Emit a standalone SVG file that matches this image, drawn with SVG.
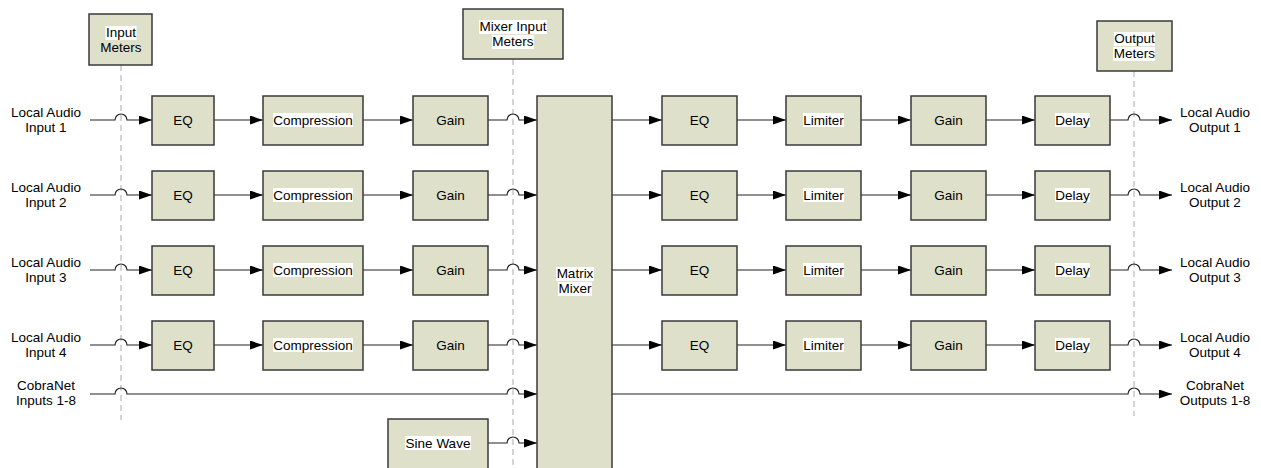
<svg xmlns="http://www.w3.org/2000/svg" width="1261" height="468" viewBox="0 0 1261 468">
<style>
.box{fill:#dee0ca;stroke:#3a3a3a;stroke-width:1.5}
.t{font-family:"Liberation Sans",Arial,sans-serif;font-size:13.5px;fill:#000;text-anchor:middle}
.hl{fill:#fff}
.wire{fill:none;stroke:#222;stroke-width:1.2}
.dash{fill:none;stroke:#aaa;stroke-width:1;stroke-dasharray:6,4}
</style>
<defs>
<marker id="arr" markerUnits="userSpaceOnUse" markerWidth="13" markerHeight="9" refX="13" refY="4.5" orient="auto">
<path d="M0,0 L13,4.5 L0,9 z" fill="#000"/>
</marker>
</defs>
<rect width="1261" height="468" fill="#fff"/>

<g id="meter-lines">
<path class="dash" d="M121,65 V420"/>
<path class="dash" d="M513,59 V468"/>
<path class="dash" d="M1134,71 V416"/>
</g>

<g id="connectors">
<!-- row 1 -->
<path class="wire" marker-end="url(#arr)" d="M90,120 H115 A6,6 0 0 1 127,120 H152"/>
<path class="wire" marker-end="url(#arr)" d="M214,120 H263"/>
<path class="wire" marker-end="url(#arr)" d="M363,120 H413"/>
<path class="wire" marker-end="url(#arr)" d="M488,120 H507 A6,6 0 0 1 519,120 H537"/>
<path class="wire" marker-end="url(#arr)" d="M612,120 H662"/>
<path class="wire" marker-end="url(#arr)" d="M737,120 H786"/>
<path class="wire" marker-end="url(#arr)" d="M861,120 H911"/>
<path class="wire" marker-end="url(#arr)" d="M986,120 H1035"/>
<path class="wire" marker-end="url(#arr)" d="M1110,120 H1128 A6,6 0 0 1 1140,120 H1172"/>
<!-- row 2 -->
<path class="wire" marker-end="url(#arr)" d="M90,195 H115 A6,6 0 0 1 127,195 H152"/>
<path class="wire" marker-end="url(#arr)" d="M214,195 H263"/>
<path class="wire" marker-end="url(#arr)" d="M363,195 H413"/>
<path class="wire" marker-end="url(#arr)" d="M488,195 H507 A6,6 0 0 1 519,195 H537"/>
<path class="wire" marker-end="url(#arr)" d="M612,195 H662"/>
<path class="wire" marker-end="url(#arr)" d="M737,195 H786"/>
<path class="wire" marker-end="url(#arr)" d="M861,195 H911"/>
<path class="wire" marker-end="url(#arr)" d="M986,195 H1035"/>
<path class="wire" marker-end="url(#arr)" d="M1110,195 H1128 A6,6 0 0 1 1140,195 H1172"/>
<!-- row 3 -->
<path class="wire" marker-end="url(#arr)" d="M90,270 H115 A6,6 0 0 1 127,270 H152"/>
<path class="wire" marker-end="url(#arr)" d="M214,270 H263"/>
<path class="wire" marker-end="url(#arr)" d="M363,270 H413"/>
<path class="wire" marker-end="url(#arr)" d="M488,270 H507 A6,6 0 0 1 519,270 H537"/>
<path class="wire" marker-end="url(#arr)" d="M612,270 H662"/>
<path class="wire" marker-end="url(#arr)" d="M737,270 H786"/>
<path class="wire" marker-end="url(#arr)" d="M861,270 H911"/>
<path class="wire" marker-end="url(#arr)" d="M986,270 H1035"/>
<path class="wire" marker-end="url(#arr)" d="M1110,270 H1128 A6,6 0 0 1 1140,270 H1172"/>
<!-- row 4 -->
<path class="wire" marker-end="url(#arr)" d="M90,345 H115 A6,6 0 0 1 127,345 H152"/>
<path class="wire" marker-end="url(#arr)" d="M214,345 H263"/>
<path class="wire" marker-end="url(#arr)" d="M363,345 H413"/>
<path class="wire" marker-end="url(#arr)" d="M488,345 H507 A6,6 0 0 1 519,345 H537"/>
<path class="wire" marker-end="url(#arr)" d="M612,345 H662"/>
<path class="wire" marker-end="url(#arr)" d="M737,345 H786"/>
<path class="wire" marker-end="url(#arr)" d="M861,345 H911"/>
<path class="wire" marker-end="url(#arr)" d="M986,345 H1035"/>
<path class="wire" marker-end="url(#arr)" d="M1110,345 H1128 A6,6 0 0 1 1140,345 H1172"/>
<!-- CobraNet -->
<path class="wire" marker-end="url(#arr)" d="M90,394 H115 A6,6 0 0 1 127,394 H507 A6,6 0 0 1 519,394 H537"/>
<path class="wire" marker-end="url(#arr)" d="M612,394 H1128 A6,6 0 0 1 1140,394 H1172"/>
<!-- Sine wave -->
<path class="wire" marker-end="url(#arr)" d="M488,443 H507 A6,6 0 0 1 519,443 H537"/>
</g>

<g id="input-labels">
<text class="t" x="46" y="117">Local Audio</text><text class="t" x="46" y="132">Input 1</text>
<text class="t" x="46" y="192">Local Audio</text><text class="t" x="46" y="207">Input 2</text>
<text class="t" x="46" y="267">Local Audio</text><text class="t" x="46" y="282">Input 3</text>
<text class="t" x="46" y="342">Local Audio</text><text class="t" x="46" y="357">Input 4</text>
<text class="t" x="46" y="390">CobraNet</text><text class="t" x="46" y="405">Inputs 1-8</text>
</g>
<g id="output-labels">
<text class="t" x="1215" y="117">Local Audio</text><text class="t" x="1215" y="132">Output 1</text>
<text class="t" x="1215" y="192">Local Audio</text><text class="t" x="1215" y="207">Output 2</text>
<text class="t" x="1215" y="267">Local Audio</text><text class="t" x="1215" y="282">Output 3</text>
<text class="t" x="1215" y="342">Local Audio</text><text class="t" x="1215" y="357">Output 4</text>
<text class="t" x="1215" y="390">CobraNet</text><text class="t" x="1215" y="405">Outputs 1-8</text>
</g>

<g id="input-meters">
<rect class="box" x="89" y="14" width="63" height="51"/>
<rect class="hl" x="105.5" y="26" width="31" height="14"/>
<text class="t" x="121" y="37">Input</text><text class="t" x="121" y="52">Meters</text>
</g>
<g id="mixer-input-meters">
<rect class="box" x="463" y="9" width="100" height="50"/>
<rect class="hl" x="479" y="20" width="68" height="14"/>
<rect class="hl" x="492" y="35" width="42" height="14"/>
<text class="t" x="513" y="31">Mixer Input</text><text class="t" x="513" y="46">Meters</text>
</g>
<g id="output-meters">
<rect class="box" x="1097" y="21" width="75" height="50"/>
<rect class="hl" x="1114" y="32" width="41" height="14"/>
<rect class="hl" x="1113" y="47" width="42" height="14"/>
<text class="t" x="1134.5" y="43">Output</text><text class="t" x="1134.5" y="58">Meters</text>
</g>

<g id="in-row1">
<g id="eq-in-1"><rect class="box" x="152" y="96" width="62" height="49"/><text class="t" x="183" y="125">EQ</text></g>
<g id="comp-1"><rect class="box" x="263" y="96" width="100" height="49"/><rect class="hl" x="273" y="113" width="80" height="14"/><text class="t" x="313" y="125">Compression</text></g>
<g id="gain-in-1"><rect class="box" x="413" y="96" width="75" height="49"/><text class="t" x="450.5" y="125">Gain</text></g>
</g>
<g id="in-row2">
<g id="eq-in-2"><rect class="box" x="152" y="171" width="62" height="49"/><text class="t" x="183" y="200">EQ</text></g>
<g id="comp-2"><rect class="box" x="263" y="171" width="100" height="49"/><rect class="hl" x="273" y="188" width="80" height="14"/><text class="t" x="313" y="200">Compression</text></g>
<g id="gain-in-2"><rect class="box" x="413" y="171" width="75" height="49"/><text class="t" x="450.5" y="200">Gain</text></g>
</g>
<g id="in-row3">
<g id="eq-in-3"><rect class="box" x="152" y="246" width="62" height="49"/><text class="t" x="183" y="275">EQ</text></g>
<g id="comp-3"><rect class="box" x="263" y="246" width="100" height="49"/><rect class="hl" x="273" y="263" width="80" height="14"/><text class="t" x="313" y="275">Compression</text></g>
<g id="gain-in-3"><rect class="box" x="413" y="246" width="75" height="49"/><text class="t" x="450.5" y="275">Gain</text></g>
</g>
<g id="in-row4">
<g id="eq-in-4"><rect class="box" x="152" y="321" width="62" height="49"/><text class="t" x="183" y="350">EQ</text></g>
<g id="comp-4"><rect class="box" x="263" y="321" width="100" height="49"/><rect class="hl" x="273" y="338" width="80" height="14"/><text class="t" x="313" y="350">Compression</text></g>
<g id="gain-in-4"><rect class="box" x="413" y="321" width="75" height="49"/><text class="t" x="450.5" y="350">Gain</text></g>
</g>

<g id="sine-wave">
<rect class="box" x="388" y="419" width="100" height="55"/>
<rect class="hl" x="405" y="436" width="66" height="14"/>
<text class="t" x="438" y="448">Sine Wave</text>
</g>

<g id="matrix-mixer">
<rect class="box" x="537" y="96" width="75" height="380"/>
<rect class="hl" x="556" y="267" width="38" height="14"/>
<rect class="hl" x="558" y="282" width="34" height="14"/>
<text class="t" x="575" y="278">Matrix</text><text class="t" x="575" y="293">Mixer</text>
</g>

<g id="out-row1">
<g id="eq-out-1"><rect class="box" x="662" y="96" width="75" height="49"/><text class="t" x="699.5" y="125">EQ</text></g>
<g id="lim-1"><rect class="box" x="786" y="96" width="75" height="49"/><rect class="hl" x="803" y="113" width="41" height="14"/><text class="t" x="823.5" y="125">Limiter</text></g>
<g id="gain-out-1"><rect class="box" x="911" y="96" width="75" height="49"/><text class="t" x="948.5" y="125">Gain</text></g>
<g id="delay-1"><rect class="box" x="1035" y="96" width="75" height="49"/><rect class="hl" x="1055" y="113" width="35" height="14"/><text class="t" x="1072.5" y="125">Delay</text></g>
</g>
<g id="out-row2">
<g id="eq-out-2"><rect class="box" x="662" y="171" width="75" height="49"/><text class="t" x="699.5" y="200">EQ</text></g>
<g id="lim-2"><rect class="box" x="786" y="171" width="75" height="49"/><rect class="hl" x="803" y="188" width="41" height="14"/><text class="t" x="823.5" y="200">Limiter</text></g>
<g id="gain-out-2"><rect class="box" x="911" y="171" width="75" height="49"/><text class="t" x="948.5" y="200">Gain</text></g>
<g id="delay-2"><rect class="box" x="1035" y="171" width="75" height="49"/><rect class="hl" x="1055" y="188" width="35" height="14"/><text class="t" x="1072.5" y="200">Delay</text></g>
</g>
<g id="out-row3">
<g id="eq-out-3"><rect class="box" x="662" y="246" width="75" height="49"/><text class="t" x="699.5" y="275">EQ</text></g>
<g id="lim-3"><rect class="box" x="786" y="246" width="75" height="49"/><rect class="hl" x="803" y="263" width="41" height="14"/><text class="t" x="823.5" y="275">Limiter</text></g>
<g id="gain-out-3"><rect class="box" x="911" y="246" width="75" height="49"/><text class="t" x="948.5" y="275">Gain</text></g>
<g id="delay-3"><rect class="box" x="1035" y="246" width="75" height="49"/><rect class="hl" x="1055" y="263" width="35" height="14"/><text class="t" x="1072.5" y="275">Delay</text></g>
</g>
<g id="out-row4">
<g id="eq-out-4"><rect class="box" x="662" y="321" width="75" height="49"/><text class="t" x="699.5" y="350">EQ</text></g>
<g id="lim-4"><rect class="box" x="786" y="321" width="75" height="49"/><rect class="hl" x="803" y="338" width="41" height="14"/><text class="t" x="823.5" y="350">Limiter</text></g>
<g id="gain-out-4"><rect class="box" x="911" y="321" width="75" height="49"/><text class="t" x="948.5" y="350">Gain</text></g>
<g id="delay-4"><rect class="box" x="1035" y="321" width="75" height="49"/><rect class="hl" x="1055" y="338" width="35" height="14"/><text class="t" x="1072.5" y="350">Delay</text></g>
</g>
</svg>
